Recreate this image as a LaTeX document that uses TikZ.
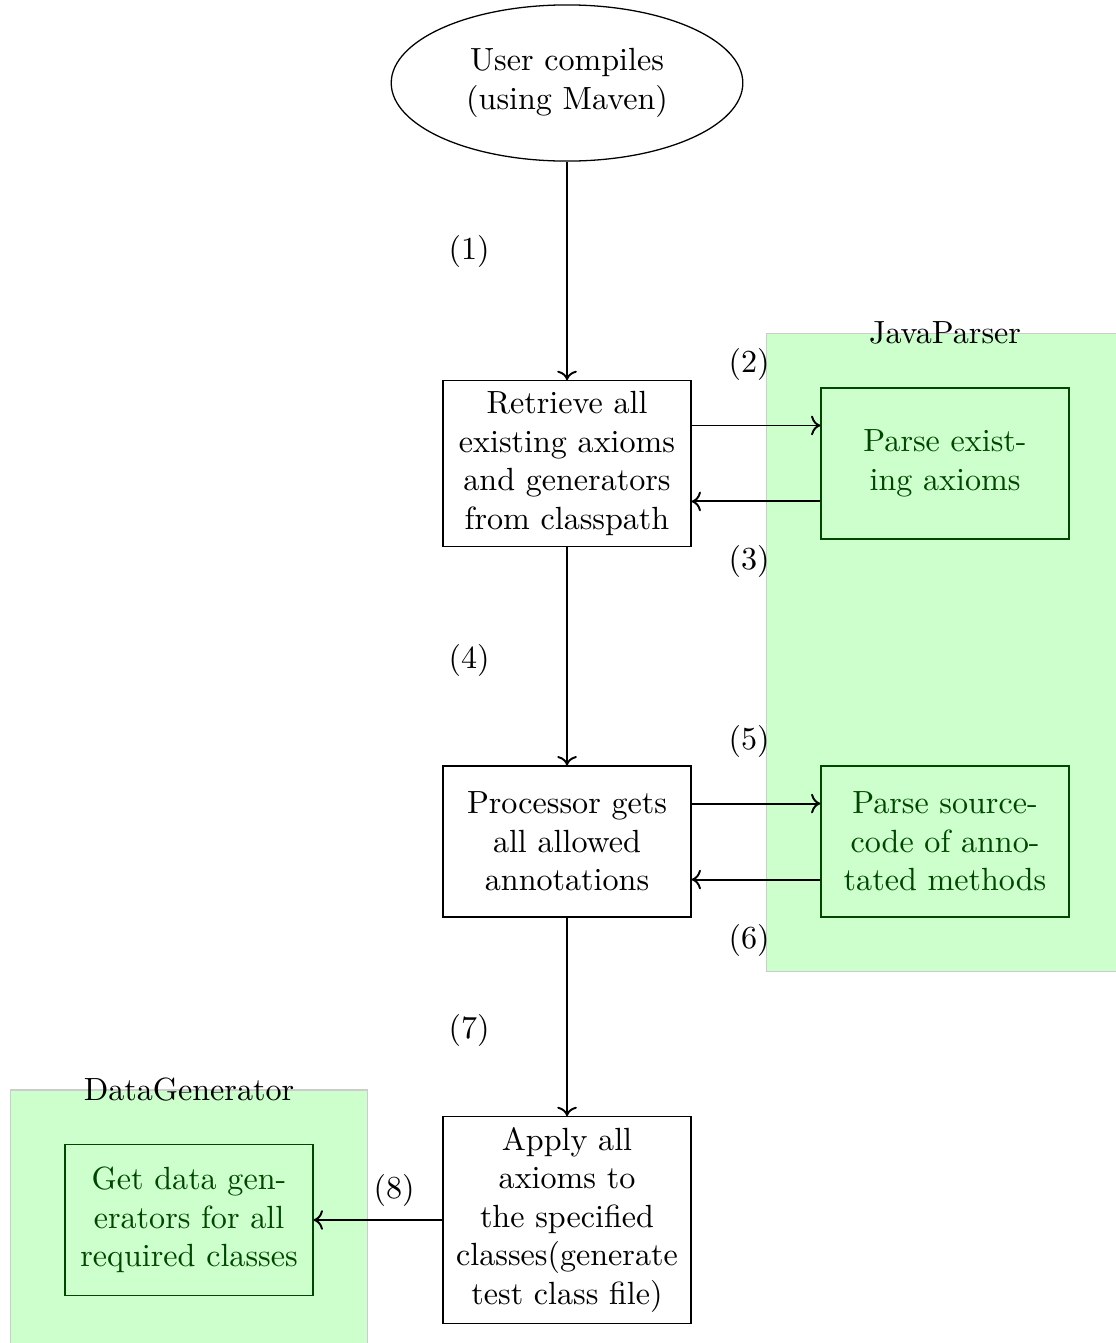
\documentclass[tikz,border=0pt]{standalone}
\usepackage{tikz}
\usetikzlibrary{shapes.geometric,arrows.meta,positioning,calc,fit,backgrounds}
\definecolor{parsegreen}{RGB}{204,255,204}
\definecolor{darkgreen}{RGB}{0,70,0}

\begin{document}
\begin{tikzpicture}[
    startnode/.style={ellipse, draw, minimum width=3.85cm, minimum height=1.71cm, align=center},
    process/.style={rectangle, draw, text width=2.48cm, align=center, minimum height=1.653cm},
    extern/.style={process, draw=darkgreen, text=darkgreen, fill=parsegreen},
    region/.style={rectangle, fill=parsegreen, draw=black!20, inner sep=0.59cm},
    arr/.style={->, semithick}
]
    \useasboundingbox (-6.209,0) rectangle (6.001,-14.706);
    \node[startnode] (user) at (0,-0.909) {User compiles\\(using Maven)};
    \node[process] (retrieve) at (0,-5.075) {Retrieve all existing axioms and generators from classpath};
    \node[process] (proc) at (0,-9.215) {Processor gets all allowed annotations};
    \node[process] (apply) at (0,-13.359) {Apply all axioms to the specified classes(generate test class file)};
    \node[extern] (pexist) at (4.139,-5.075) {Parse exist-\\ing axioms};
    \node[extern] (psource) at (4.139,-9.215) {Parse source-\\code of anno-\\tated methods};
    \node[extern] (getdata) at (-4.139,-13.359) {Get data gen-\\erators for all\\required classes};
    \begin{scope}[on background layer]
        \node[region, fit=(pexist)(psource)] (javaparser) {};
        \node[region, fit=(getdata)] (datagen) {};
    \end{scope}
    \node at (javaparser.north) {JavaParser};
    \node at (datagen.north) {DataGenerator};
    % step numbers
    \node (l1) at (-1.073,-2.759) {(1)};
    \node (l2) at (1.993,-3.986) {(2)};
    \node (l3) at (1.993,-6.143) {(3)};
    \node (l4) at (-1.073,-7.227) {(4)};
    \node (l5) at (1.993,-8.114) {(5)};
    \node (l6) at (1.993,-10.293) {(6)};
    \node (l7) at (-1.073,-11.279) {(7)};
    \node (l8) at (-1.894,-13.031) {(8)};
    \draw[arr] (user) -- (retrieve);
    \draw[arr] ([yshift=0.416cm]retrieve.east) -- ([yshift=0.416cm]pexist.west);
    \draw[arr] ([yshift=-0.416cm]pexist.west) -- ([yshift=-0.416cm]retrieve.east);
    \draw[arr] (retrieve) -- (proc);
    \draw[arr] ([yshift=0.416cm]proc.east) -- ([yshift=0.416cm]psource.west);
    \draw[arr] ([yshift=-0.416cm]psource.west) -- ([yshift=-0.416cm]proc.east);
    \draw[arr] (proc) -- (apply);
    \draw[arr] (apply) -- (getdata);
\end{tikzpicture}
\end{document}
